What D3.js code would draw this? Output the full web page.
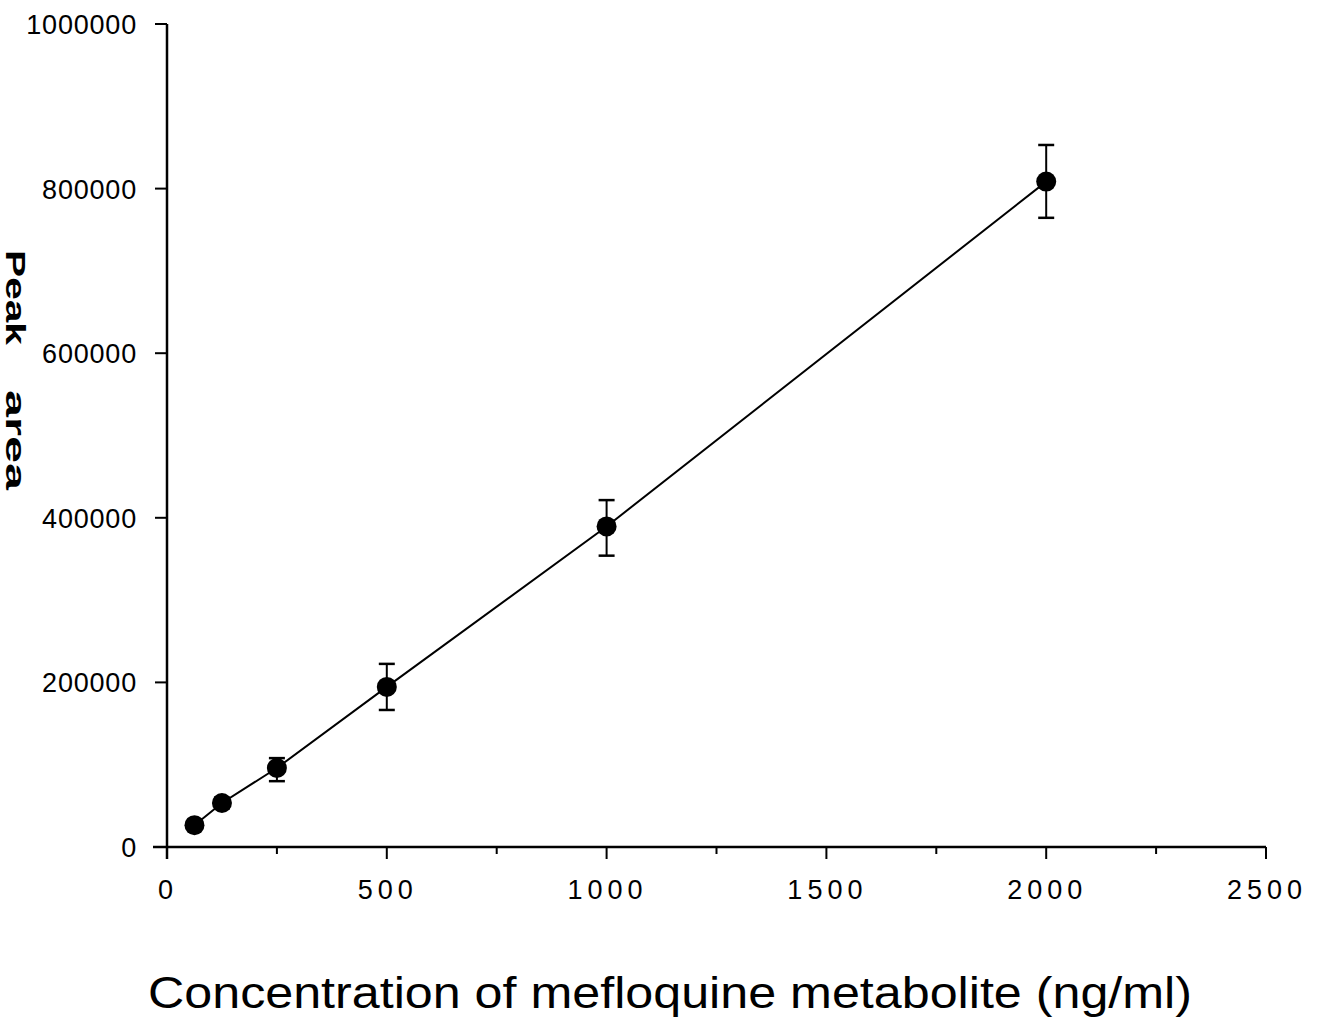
<!DOCTYPE html>
<html>
<head>
<meta charset="utf-8">
<script src="https://cdn.jsdelivr.net/npm/d3@7"></script>
<style>
  html, body { margin: 0; padding: 0; background: #fff; }
  svg { display: block; }
  text { font-family: "Liberation Sans", Arial, sans-serif; fill: #000; }
</style>
</head>
<body>
<svg id="chart"></svg>
<script>
// concentration (ng/ml) and mean peak area with error bar ends
const concentrations = [62.5, 125, 250, 500, 1000, 2000];
const peakAreas      = [26500, 53500, 96000, 194500, 389500, 808500];
const errLow         = [26500, 47000, 80000, 166500, 354000, 764500];
const errHigh        = [26500, 60000, 108000, 222500, 421500, 853000];

const xTicks = [0, 500, 1000, 1500, 2000, 2500];
const xMinorTicks = [250, 750, 1250, 1750, 2250];
const yTicks = [0, 200000, 400000, 600000, 800000, 1000000];

const W = 1317, H = 1021;
const svg = d3.select('#chart').attr('width', W).attr('height', H);

const x = d3.scaleLinear().domain([0, 2500]).range([167, 1266]);
const y = d3.scaleLinear().domain([0, 1000000]).range([847, 24]);

const g = svg.append('g');

// axes lines
g.append('line')
  .attr('x1', 153).attr('x2', x(2500))
  .attr('y1', y(0)).attr('y2', y(0))
  .attr('stroke', '#000').attr('stroke-width', 2.5);
g.append('line')
  .attr('x1', x(0)).attr('x2', x(0))
  .attr('y1', y(1000000)).attr('y2', y(0) + 12)
  .attr('stroke', '#000').attr('stroke-width', 2.5);

// x ticks
xTicks.forEach(t => {
  g.append('line')
    .attr('x1', x(t)).attr('x2', x(t))
    .attr('y1', y(0)).attr('y2', y(0) + 12)
    .attr('stroke', '#000').attr('stroke-width', 2);
  g.append('text')
    .attr('x', x(t) + 1).attr('y', 899)
    .attr('text-anchor', 'middle')
    .attr('font-size', 27)
    .attr('letter-spacing', 5)
    .text(t);
});
xMinorTicks.forEach(t => {
  g.append('line')
    .attr('x1', x(t)).attr('x2', x(t))
    .attr('y1', y(0)).attr('y2', y(0) + 7)
    .attr('stroke', '#000').attr('stroke-width', 2);
});

// y ticks
yTicks.forEach(t => {
  g.append('line')
    .attr('x1', x(0) - 12).attr('x2', x(0))
    .attr('y1', y(t)).attr('y2', y(t))
    .attr('stroke', '#000').attr('stroke-width', 2);
  g.append('text')
    .attr('x', 137).attr('y', y(t) + 10)
    .attr('text-anchor', 'end')
    .attr('font-size', 27)
    .attr('letter-spacing', 0.8)
    .text(t);
});

// connecting line
const line = d3.line().x((d, i) => x(concentrations[i])).y(d => y(d));
g.append('path')
  .datum(peakAreas)
  .attr('d', line)
  .attr('fill', 'none')
  .attr('stroke', '#000')
  .attr('stroke-width', 2);

// error bars
concentrations.forEach((c, i) => {
  if (errHigh[i] === errLow[i]) return;
  const cx = x(c);
  g.append('line')
    .attr('x1', cx).attr('x2', cx)
    .attr('y1', y(errHigh[i])).attr('y2', y(errLow[i]))
    .attr('stroke', '#000').attr('stroke-width', 2);
  [errHigh[i], errLow[i]].forEach(v => {
    g.append('line')
      .attr('x1', cx - 8).attr('x2', cx + 8)
      .attr('y1', y(v)).attr('y2', y(v))
      .attr('stroke', '#000').attr('stroke-width', 2.5);
  });
});

// markers
g.selectAll('circle.pt')
  .data(peakAreas)
  .join('circle')
  .attr('class', 'pt')
  .attr('cx', (d, i) => x(concentrations[i]))
  .attr('cy', d => y(d))
  .attr('r', 10)
  .attr('fill', '#000');

// axis titles
svg.append('text')
  .attr('x', 148).attr('y', 1008)
  .attr('font-size', 44)
  .attr('textLength', 1044)
  .attr('lengthAdjust', 'spacingAndGlyphs')
  .text('Concentration of mefloquine metabolite (ng/ml)');

// y title, drawn as two words to keep the wide gap
[['Peak', 250, 95], ['area', 390, 100]].forEach(([word, start, len]) => {
  svg.append('text')
    .attr('transform', `translate(6,${start}) rotate(90)`)
    .attr('font-size', 28)
    .attr('font-weight', 'bold')
    .attr('textLength', len)
    .attr('lengthAdjust', 'spacingAndGlyphs')
    .text(word);
});
</script>
</body>
</html>
